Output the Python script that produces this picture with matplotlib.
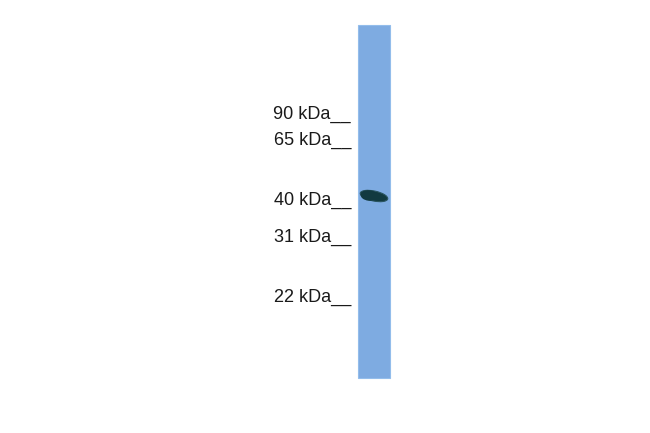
import matplotlib
matplotlib.use("Agg")
import matplotlib.pyplot as plt
from matplotlib.patches import Rectangle, Ellipse

# Marker ladder (label, migration position in image rows)
marker_labels = ["90 kDa", "65 kDa", "40 kDa", "31 kDa", "22 kDa"]
marker_rows = [119, 145, 205, 242, 302]

# Lane extent (columns / rows)
lane_cols = [358, 390]
lane_rows = [25, 378]

# Detected band (center column, center row, width, height)
band_center = [374, 196]
band_size = [28, 10]

plt.rcParams["font.family"] = ["Liberation Sans", "DejaVu Sans"]

fig = plt.figure(figsize=(6.5, 4.33), dpi=100)
ax = fig.add_axes([0, 0, 1, 1])
ax.set_xlim(0, 650)
ax.set_ylim(433, 0)
ax.axis("off")

# lane
ax.add_patch(Rectangle((lane_cols[0], lane_rows[0]), lane_cols[1] - lane_cols[0],
                       lane_rows[1] - lane_rows[0], facecolor="#7eabe1",
                       edgecolor="#93bdeb", linewidth=0.8))

# band: main lens plus thicker left lobe
ax.add_patch(Ellipse((band_center[0], band_center[1]), band_size[0],
                     band_size[1], angle=12, facecolor="#123a40",
                     edgecolor="#2a5560", linewidth=0.8))
ax.add_patch(Ellipse((band_center[0] - 5, band_center[1] - 0.5), band_size[0] * 0.6,
                     band_size[1] * 1.05, angle=6, facecolor="#123a40",
                     edgecolor="none"))

for lab, row in zip(marker_labels, marker_rows):
    ax.text(351, row, lab + "__", ha="right", va="baseline", fontsize=13,
            color="#1a1a1a")

fig.savefig("out.png", dpi=100)
